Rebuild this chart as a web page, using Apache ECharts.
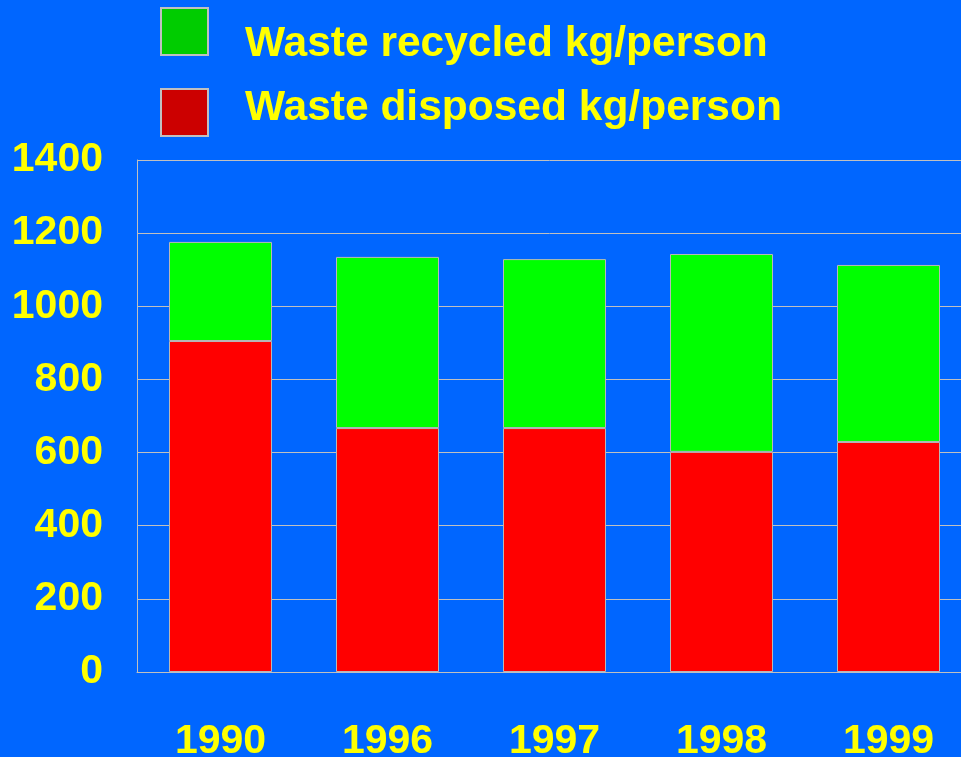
<!DOCTYPE html>
<html>
<head>
<meta charset="utf-8">
<script src="https://cdn.jsdelivr.net/npm/echarts@6/dist/echarts.min.js"></script>
<style>html,body{margin:0;padding:0;background:#0066FF;overflow:hidden;}#c{width:961px;height:757px;}</style>
</head>
<body>
<div id="c"></div>
<script>
var categories = ['1990', '1996', '1997', '1998', '1999'];
var disposed = [905, 667, 667, 602, 629];
var recycled = [271, 468, 462, 541, 484];
var seriesNames = ['Waste recycled kg/person', 'Waste disposed kg/person'];
var yTicks = [0, 200, 400, 600, 800, 1000, 1200, 1400];

var font = '"Liberation Sans", Arial, sans-serif';
function legendText(lh) {
  return { color: '#FFFF00', fontSize: 42.5, fontWeight: 'bold', fontFamily: font, lineHeight: lh, padding: [0, 0, 0, 32] };
}
var chart = echarts.init(document.getElementById('c'));
chart.setOption({
  backgroundColor: '#0066FF',
  animation: false,
  legend: [
    {
      orient: 'vertical', left: 160, top: -3, padding: 0,
      itemWidth: 47, itemHeight: 47, icon: 'rect',
      formatter: function (name) { return '\n' + name; },
      textStyle: legendText(26),
      data: [{ name: seriesNames[0], itemStyle: { color: '#00CC00', borderColor: '#C0C0C0', borderWidth: 2 } }]
    },
    {
      orient: 'vertical', left: 160, top: 87, padding: 0,
      itemWidth: 47, itemHeight: 47, icon: 'rect',
      formatter: function (name) { return name + '\n'; },
      textStyle: legendText(8),
      data: [{ name: seriesNames[1], itemStyle: { color: '#CC0000', borderColor: '#C0C0C0', borderWidth: 2 } }]
    }
  ],
  grid: { left: 137, top: 160, width: 835, height: 512, containLabel: false, outerBoundsMode: 'none' },
  xAxis: {
    type: 'category',
    data: categories,
    axisLine: { show: true, lineStyle: { color: '#C0C0C0', width: 1 } },
    axisTick: { show: false },
    axisLabel: { color: '#FFFF00', fontSize: 41, fontWeight: 'bold', fontFamily: font, margin: 49 }
  },
  yAxis: {
    type: 'value',
    min: 0, max: 1400, interval: 200,
    axisLine: { show: true, lineStyle: { color: '#C0C0C0', width: 1 } },
    axisTick: { show: false },
    splitLine: { show: true, lineStyle: { color: '#C0C0C0', width: 1 } },
    axisLabel: {
      color: '#FFFF00', fontSize: 41, fontWeight: 'bold', fontFamily: font, margin: 34,
      padding: [5, 0, 0, 0],
      formatter: function (v) { return yTicks.indexOf(v) >= 0 ? String(v) : ''; }
    }
  },
  series: [
    {
      name: seriesNames[1], type: 'bar', stack: 'total', data: disposed, barWidth: 103,
      itemStyle: { color: '#FF0000', borderColor: '#B8B8B8', borderWidth: 1 }
    },
    {
      name: seriesNames[0], type: 'bar', stack: 'total', data: recycled, barWidth: 103,
      itemStyle: { color: '#00FF00', borderColor: '#B8B8B8', borderWidth: 1 }
    }
  ]
});
</script>
</body>
</html>
